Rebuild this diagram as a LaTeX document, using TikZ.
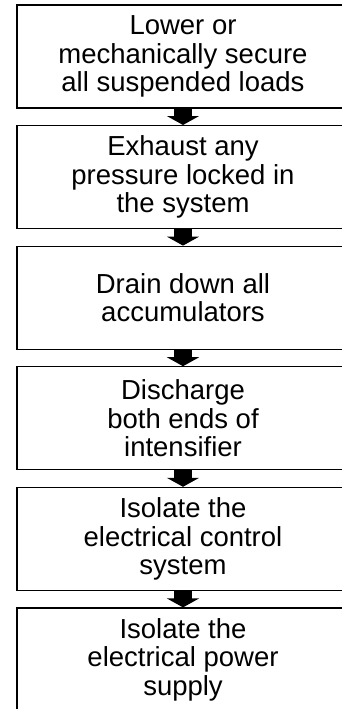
\documentclass[tikz,border=0pt]{standalone}
\usepackage{fontspec}
\setmainfont{Liberation Sans}
\usetikzlibrary{arrows.meta}
\tikzset{
  stepbox/.style={draw, line width=1.2pt, minimum width=332pt, minimum height=103pt,
    align=center, inner sep=0pt, font=\fontsize{27.5}{28.5}\selectfont},
  flowarrow/.style={line width=18pt, -{Triangle[width=32pt,length=9pt]}}
}
\begin{document}
\begin{tikzpicture}[x=1pt,y=-1pt]
	\useasboundingbox (0,0) rectangle (342,709);
	\clip (0,0) rectangle (342,709);

	\node[stepbox] (lower) at (183,56.5) {Lower or\\mechanically secure\\all suspended loads};
	\node[stepbox] (exhaust) at (183,177.1) {Exhaust any\\pressure locked in\\the system};
	\node[stepbox] (drain) at (183,297.7) {Drain down all\\accumulators};
	\node[stepbox] (discharge) at (183,418.3) {Discharge\\both ends of\\intensifier};
	\node[stepbox] (control) at (183,538.9) {Isolate the\\electrical control\\system};
	\node[stepbox] (power) at (183,659.5) {Isolate the\\electrical power\\supply};

	\draw[flowarrow] (lower.south) -- (exhaust.north);
	\draw[flowarrow] (exhaust.south) -- (drain.north);
	\draw[flowarrow] (drain.south) -- (discharge.north);
	\draw[flowarrow] (discharge.south) -- (control.north);
	\draw[flowarrow] (control.south) -- (power.north);
\end{tikzpicture}
\end{document}
